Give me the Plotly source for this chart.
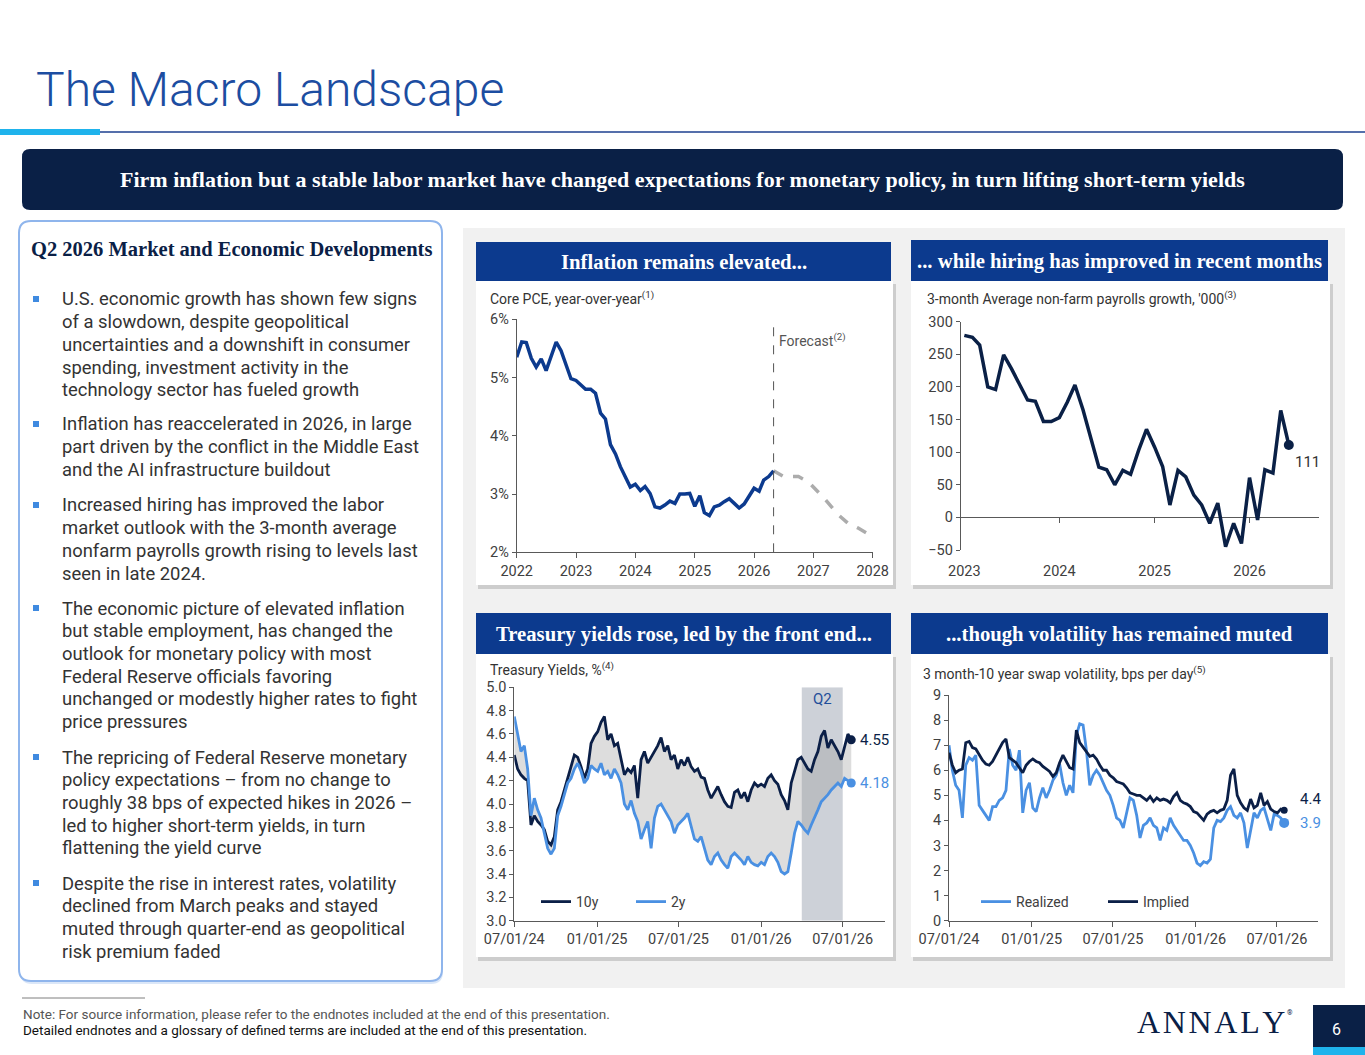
import plotly.graph_objects as go
import pandas as pd

W, H = 1365, 1055

# ---------------- data ----------------
pce = [5.35, 5.61, 5.60, 5.33, 5.18, 5.32, 5.12, 5.35, 5.61, 5.46, 5.23, 4.98,
       4.95, 4.87, 4.80, 4.80, 4.73, 4.39, 4.29, 3.85, 3.69, 3.47, 3.28, 3.12,
       3.17, 3.06, 3.13, 3.01, 2.78, 2.76, 2.81, 2.88, 2.84, 3.00, 3.00, 3.01,
       2.79, 2.97, 2.68, 2.63, 2.78, 2.81, 2.87, 2.92, 2.84, 2.76, 2.83, 2.97,
       3.10, 3.05, 3.24, 3.30, 3.40]
pce_fc_dates = ["2026-05-01", "2026-07-01", "2026-10-01", "2026-12-01", "2027-03-01",
                "2027-06-01", "2027-08-01", "2027-10-01", "2027-12-01"]
pce_fc = [3.40, 3.30, 3.30, 3.21, 2.95, 2.65, 2.50, 2.42, 2.32]

payrolls = [279, 276, 264, 200, 196, 249, 228, 205, 180, 178, 147, 147,
            153, 177, 203, 165, 124, 77, 73, 50, 72, 66, 103, 135,
            108, 78, 19, 72, 62, 34, 19, -9, 22, -45, -9, -40,
            61, -4, 73, 68, 164, 111]

ten_y = [4.42, 4.30, 4.25, 4.22, 4.20, 3.82, 3.90, 3.85, 3.82, 3.78, 3.68, 3.65,
         3.72, 3.95, 4.02, 4.12, 4.22, 4.30, 4.42, 4.40, 4.32, 4.22, 4.30, 4.52,
         4.58, 4.62, 4.70, 4.75, 4.55, 4.60, 4.50, 4.52, 4.38, 4.25, 4.30, 4.27,
         4.33, 4.05, 4.38, 4.45, 4.35, 4.40, 4.45, 4.50, 4.57, 4.45, 4.50, 4.38,
         4.42, 4.30, 4.38, 4.33, 4.40, 4.32, 4.28, 4.30, 4.23, 4.22, 4.12, 4.05,
         4.10, 4.15, 4.08, 4.02, 3.98, 3.97, 4.10, 4.12, 4.05, 4.10, 4.02, 4.12,
         4.18, 4.15, 4.17, 4.15, 4.22, 4.25, 4.20, 4.17, 4.08, 4.03, 3.95, 4.18,
         4.28, 4.38, 4.40, 4.35, 4.30, 4.28, 4.38, 4.45, 4.58, 4.63, 4.48, 4.55,
         4.50, 4.45, 4.38, 4.50, 4.60, 4.55]
two_y = [4.75, 4.60, 4.45, 4.50, 4.30, 3.90, 4.05, 3.95, 3.88, 3.75, 3.62, 3.57,
         3.62, 3.90, 3.98, 4.08, 4.18, 4.22, 4.30, 4.35, 4.28, 4.18, 4.22, 4.33,
         4.30, 4.28, 4.35, 4.25, 4.28, 4.22, 4.30, 4.25, 4.18, 4.00, 3.95, 4.03,
         3.92, 3.85, 3.70, 3.78, 3.85, 3.62, 3.88, 3.98, 4.00, 3.95, 3.90, 3.85,
         3.75, 3.82, 3.85, 3.88, 3.92, 3.80, 3.70, 3.68, 3.72, 3.62, 3.52, 3.48,
         3.55, 3.58, 3.52, 3.48, 3.45, 3.55, 3.58, 3.55, 3.52, 3.48, 3.55, 3.50,
         3.48, 3.47, 3.50, 3.48, 3.55, 3.58, 3.55, 3.50, 3.42, 3.40, 3.42, 3.58,
         3.75, 3.85, 3.82, 3.78, 3.75, 3.82, 3.88, 3.95, 4.02, 4.05, 4.08, 4.12,
         4.15, 4.18, 4.15, 4.22, 4.20, 4.18]

implied = [6.7, 6.2, 5.9, 6.0, 6.05, 7.1, 7.15, 6.9, 6.85, 6.6, 6.4, 6.25,
           6.2, 6.35, 6.6, 6.8, 7.1, 7.25, 6.5, 6.4, 6.3, 6.1, 5.9, 6.2,
           6.35, 6.45, 6.35, 6.3, 6.15, 6.05, 5.95, 5.75, 5.9, 6.3, 6.6, 6.35,
           6.1, 6.05, 7.6, 7.1, 6.9, 6.7, 6.55, 6.6, 6.45, 6.2, 6.0, 6.0,
           5.8, 5.7, 5.55, 5.5, 5.45, 5.3, 5.1, 5.05, 5.0, 5.0, 4.9, 4.8,
           4.95, 4.75, 4.9, 4.8, 4.85, 4.8, 4.7, 4.95, 5.1, 4.8, 4.7, 4.65,
           4.55, 4.35, 4.3, 4.15, 4.0, 4.25, 4.35, 4.4, 4.3, 4.4, 4.45, 4.8,
           5.8, 6.05, 5.0, 4.7, 4.5, 4.4, 4.85, 4.5, 4.6, 5.1, 4.6, 4.75,
           4.45, 4.35, 4.3, 4.45, 4.4]
realized = [7.0, 6.0, 5.4, 5.2, 4.1, 6.2, 6.5, 6.4, 6.6, 4.6, 4.4, 4.2,
            4.0, 4.55, 4.55, 4.8, 4.9, 5.2, 6.85, 6.2, 6.0, 6.8, 4.3, 5.2,
            5.5, 4.5, 4.35, 4.9, 5.3, 4.9, 5.2, 5.6, 5.8, 6.25, 5.5, 5.0,
            5.4, 5.1, 7.4, 7.85, 7.8, 6.8, 5.4, 5.8, 6.0, 5.8, 5.5, 5.2,
            5.0, 4.6, 4.1, 4.0, 3.7, 4.3, 4.9, 4.8, 4.2, 3.3, 3.8, 3.9,
            4.1, 3.8, 3.7, 3.2, 3.7, 3.6, 4.1, 3.8, 3.6, 3.4, 3.2, 3.2,
            3.0, 2.7, 2.3, 2.2, 2.35, 2.3, 2.45, 3.7, 4.0, 3.95, 4.1, 4.4,
            4.55, 4.2, 4.1, 4.3, 3.9, 2.9, 3.6, 4.3, 4.1, 4.4, 4.5, 4.0,
            3.6, 4.25, 4.2, 4.1, 3.9]

pce_dates = pd.date_range("2022-01-01", periods=len(pce), freq="MS")
pay_dates = pd.date_range("2023-01-01", periods=len(payrolls), freq="MS")
ust_dates = pd.date_range("2024-07-01", "2026-07-20", periods=len(ten_y))
vol_dates = pd.date_range("2024-07-01", "2026-07-17", periods=len(implied))
half_year_ticks = ["2024-07-01", "2025-01-01", "2025-07-01", "2026-01-01", "2026-07-01"]
pay_zero_ticks = ["2024-01-01", "2025-01-01", "2026-01-01"]
pay_range = [-50, 300]

bullets = [
    ["U.S. economic growth has shown few signs", "of a slowdown, despite geopolitical",
     "uncertainties and a downshift in consumer", "spending, investment activity in the",
     "technology sector has fueled growth"],
    ["Inflation has reaccelerated in 2026, in large", "part driven by the conflict in the Middle East",
     "and the AI infrastructure buildout"],
    ["Increased hiring has improved the labor", "market outlook with the 3-month average",
     "nonfarm payrolls growth rising to levels last", "seen in late 2024."],
    ["The economic picture of elevated inflation", "but stable employment, has changed the",
     "outlook for monetary policy with most", "Federal Reserve officials favoring",
     "unchanged or modestly higher rates to fight", "price pressures"],
    ["The repricing of Federal Reserve monetary", "policy expectations \u2013 from no change to",
     "roughly 38 bps of expected hikes in 2026 \u2013", "led to higher short-term yields, in turn",
     "flattening the yield curve"],
    ["Despite the rise in interest rates, volatility", "declined from March peaks and stayed",
     "muted through quarter-end as geopolitical", "risk premium faded"],
]
bullet_rows = [299, 424, 505, 608, 757, 883]

NAVY = "#0a2046"
ROYAL = "#0c3a8e"
LIGHT = "#4a90e2"
DARK = "#0b1f47"
AXIS = "#595959"
TICKFONT = dict(family="Roboto", size=14.5, color="#404040")
SERIF = "Liberation Serif"


def fx(p):
    return p / W


def fy(p):
    return 1 - p / H


shapes = []
annotations = []


def box(x0, y0, x1, y1, fill, line_color=None, line_width=0):
    shapes.append(dict(type="rect", xref="paper", yref="paper", layer="below",
                       x0=fx(x0), x1=fx(x1), y0=fy(y1), y1=fy(y0), fillcolor=fill,
                       line=dict(color=line_color or fill, width=line_width)))


def rounded(x0, y0, x1, y1, r, fill, line_color=None, line_width=0):
    path = (f"M {fx(x0 + r)},{fy(y0)} L {fx(x1 - r)},{fy(y0)} Q {fx(x1)},{fy(y0)} {fx(x1)},{fy(y0 + r)} "
            f"L {fx(x1)},{fy(y1 - r)} Q {fx(x1)},{fy(y1)} {fx(x1 - r)},{fy(y1)} "
            f"L {fx(x0 + r)},{fy(y1)} Q {fx(x0)},{fy(y1)} {fx(x0)},{fy(y1 - r)} "
            f"L {fx(x0)},{fy(y0 + r)} Q {fx(x0)},{fy(y0)} {fx(x0 + r)},{fy(y0)} Z")
    shapes.append(dict(type="path", xref="paper", yref="paper", layer="below", path=path,
                       fillcolor=fill, line=dict(color=line_color or fill, width=line_width)))


def text(x, y, s, size, color, family="Roboto", xanchor="left", yanchor="middle", **kw):
    annotations.append(dict(xref="paper", yref="paper", x=fx(x), y=fy(y), text=s, showarrow=False,
                            xanchor=xanchor, yanchor=yanchor, align="left",
                            font=dict(family=family, size=size, color=color, **kw)))


# ---------------- slide furniture ----------------
text(34, 90, "The Macro Landscape", 48, "#1c4da1", weight=300)
shapes.append(dict(type="line", xref="paper", yref="paper", x0=fx(100), x1=1, y0=fy(132), y1=fy(132),
                   line=dict(color="#1c3f8f", width=1.5)))
box(0, 129, 100, 135, "#1fb3ec")

rounded(22, 149, 1343, 210, 8, NAVY)
text(682, 180, "<b>Firm inflation but a stable labor market have changed expectations for monetary policy, in turn lifting short-term yields</b>",
     22, "white", family=SERIF, xanchor="center")

# left panel
rounded(20, 224, 443, 984, 12, "#dbe7f8")
rounded(19, 221, 442, 981, 12, "white", "#8fb5ec", 2)
text(29, 249, "<b>Q2 2026 Market and Economic Developments</b>", 20.5, NAVY, family=SERIF)
for row, lines in zip(bullet_rows, bullets):
    box(33, row - 3, 39, row + 3, "#3f8ae0")
    for i, line in enumerate(lines):
        text(60, row + i * 22.7, line, 18.4, "#333333")

# chart panel
box(463, 228, 1345, 988, "#f1f1f1")
cards = [
    (476, 242, 891, 281, 585, "Inflation remains elevated..."),
    (911, 240, 1328, 281, 585, "... while hiring has improved in recent months"),
    (476, 613, 891, 654, 957, "Treasury yields rose, led by the front end..."),
    (911, 613, 1328, 654, 957, "...though volatility has remained muted"),
]
for x0, h0, x1, h1, c1, title in cards:
    box(x0 + 2, h1 + 3, x1 + 5, c1 + 4, "#cdcdcd")
    box(x0, h1, x1 + 2, c1, "white")
    box(x0, h0, x1, h1, ROYAL)
    text((x0 + x1) / 2, (h0 + h1) / 2 + 1, "<b>" + title + "</b>", 20.7, "white", family=SERIF, xanchor="center")

text(488, 298, "Core PCE, year-over-year<sup>(1)</sup>", 14, "#333333")
text(925, 298, "3-month Average non-farm payrolls growth, '000<sup>(3)</sup>", 14, "#333333")
text(488, 669, "Treasury Yields, %<sup>(4)</sup>", 14, "#333333")
text(921, 673, "3 month-10 year swap volatility, bps per day<sup>(5)</sup>", 14, "#333333")

# footer
shapes.append(dict(type="line", xref="paper", yref="paper", x0=fx(22), x1=fx(145), y0=fy(998), y1=fy(998),
                   line=dict(color="#7f7f7f", width=1)))
text(21, 1014, "Note: For source information, please refer to the endnotes included at the end of this presentation.",
     13.5, "#555555")
text(21, 1030, "Detailed endnotes and a glossary of defined terms are included at the end of this presentation.",
     13.5, "#111111")
text(1211, 1022, "\u200a".join("ANNALY"), 32, NAVY, family=SERIF, xanchor="center")
text(1285, 1013, "\u00ae", 7, NAVY)
box(1313, 1005, 1365, 1047, NAVY)
box(1313, 1047, 1365, 1055, "#1fb3ec")
text(1336, 1029, "6", 16, "white", xanchor="center")

# ---------------- charts ----------------
fig = go.Figure()

# chart 1: core PCE
fig.add_trace(go.Scatter(x=pce_fc_dates, y=pce_fc, mode="lines", xaxis="x", yaxis="y", showlegend=False,
                         line=dict(color="#acacac", width=3.5, dash="dash")))
fig.add_trace(go.Scatter(x=pce_dates, y=pce, mode="lines", xaxis="x", yaxis="y", showlegend=False,
                         line=dict(color=ROYAL, width=3.5)))
shapes.append(dict(type="line", xref="x", yref="y", x0=pce_fc_dates[0], x1=pce_fc_dates[0], y0=2, y1=6,
                   line=dict(color="#555555", width=1, dash="dash")))
annotations.append(dict(xref="x", yref="y", x=pce_fc_dates[0], y=5.65, xanchor="left", xshift=3,
                        text="Forecast<sup>(2)</sup>", showarrow=False,
                        font=dict(family="Roboto", size=14, color="#555555")))

# chart 2: payrolls
fig.add_trace(go.Scatter(x=[], y=[], xaxis="x5", yaxis="y2", showlegend=False))
fig.add_trace(go.Scatter(x=pay_dates, y=payrolls, mode="lines", xaxis="x2", yaxis="y2", showlegend=False,
                         line=dict(color=NAVY, width=3.5)))
fig.add_trace(go.Scatter(x=[pay_dates[-1]], y=[payrolls[-1]], mode="markers", xaxis="x2", yaxis="y2",
                         showlegend=False, marker=dict(color=NAVY, size=10)))
annotations.append(dict(xref="x2", yref="y2", x=pay_dates[-1], y=payrolls[-1], xanchor="left", xshift=4,
                        yshift=-17, text=str(payrolls[-1]), showarrow=False,
                        font=dict(family="Roboto", size=15, color="#333333")))

# chart 3: treasury yields
shapes.append(dict(type="rect", xref="x3", yref="y3", layer="below", x0="2026-04-01", x1="2026-07-01",
                   y0=3.0, y1=5.0, fillcolor="#cdd1d8", line=dict(width=0)))
fig.add_trace(go.Scatter(x=ust_dates, y=two_y, mode="lines", xaxis="x3", yaxis="y3", showlegend=False,
                         line=dict(width=0), hoverinfo="skip"))
fig.add_trace(go.Scatter(x=ust_dates, y=ten_y, mode="lines", xaxis="x3", yaxis="y3", showlegend=False,
                         line=dict(width=0), fill="tonexty", fillcolor="rgba(150,150,150,0.32)", hoverinfo="skip"))
fig.add_trace(go.Scatter(x=ust_dates, y=ten_y, mode="lines", name="10y", xaxis="x3", yaxis="y3",
                         legend="legend", line=dict(color=DARK, width=2.8)))
fig.add_trace(go.Scatter(x=ust_dates, y=two_y, mode="lines", name="2y", xaxis="x3", yaxis="y3",
                         legend="legend", line=dict(color=LIGHT, width=2.8)))
for series, col in [(ten_y, DARK), (two_y, LIGHT)]:
    fig.add_trace(go.Scatter(x=[ust_dates[-1]], y=[series[-1]], mode="markers", xaxis="x3", yaxis="y3",
                             showlegend=False, marker=dict(color=col, size=9), cliponaxis=False))
    annotations.append(dict(xref="x3", yref="y3", x=ust_dates[-1], y=series[-1], xanchor="left", xshift=7,
                            text=f"{series[-1]:.2f}", showarrow=False,
                            font=dict(family="Roboto", size=15, color=col)))
annotations.append(dict(xref="x3", yref="y3", x="2026-05-16", y=4.9, text="Q2", showarrow=False,
                        font=dict(family="Roboto", size=15, color="#1f4e9a")))

# chart 4: swap volatility
fig.add_trace(go.Scatter(x=vol_dates, y=realized, mode="lines", name="Realized", xaxis="x4", yaxis="y4",
                         legend="legend2", line=dict(color=LIGHT, width=2.8)))
fig.add_trace(go.Scatter(x=vol_dates, y=implied, mode="lines", name="Implied", xaxis="x4", yaxis="y4",
                         legend="legend2", line=dict(color=DARK, width=2.8)))
fig.add_trace(go.Scatter(x=[vol_dates[-1]], y=[realized[-1]], mode="markers", xaxis="x4", yaxis="y4",
                         showlegend=False, marker=dict(color=LIGHT, size=10)))
fig.add_trace(go.Scatter(x=[vol_dates[-1]], y=[implied[-1]], mode="markers", xaxis="x4", yaxis="y4",
                         showlegend=False, marker=dict(color=DARK, size=7)))
for val, col, shift in [(implied[-1], DARK, 11), (realized[-1], LIGHT, 0)]:
    annotations.append(dict(xref="x4", yref="y4", x=vol_dates[-1], y=val, xanchor="left", xshift=14,
                            yshift=shift, text=f"{val:.1f}", showarrow=False,
                            font=dict(family="Roboto", size=15, color=col)))

# ---------------- axes ----------------
axis_common = dict(showgrid=False, zeroline=False, showline=True, linecolor=AXIS, linewidth=1,
                   ticks="outside", ticklen=5, tickcolor=AXIS, tickfont=TICKFONT, automargin=False)
legend_common = dict(xanchor="left", yanchor="middle", orientation="h", traceorder="normal",
                     bgcolor="rgba(0,0,0,0)", font=dict(family="Roboto", size=14, color="#404040"))

pay_domain = [fy(550), fy(321.7)]
zero_pos = pay_domain[0] + (0 - pay_range[0]) / (pay_range[1] - pay_range[0]) * (pay_domain[1] - pay_domain[0])

fig.update_layout(
    width=W, height=H, autosize=False,
    margin=dict(l=0, r=0, t=0, b=0, pad=0, autoexpand=False),
    paper_bgcolor="white", plot_bgcolor="rgba(0,0,0,0)",
    shapes=shapes, annotations=annotations,
    xaxis=dict(axis_common, domain=[fx(516.7), fx(872.7)], anchor="y", type="date",
               range=["2022-01-01", "2028-01-01"], dtick="M12", tickformat="%Y"),
    yaxis=dict(axis_common, domain=[fy(552.3), fy(319.3)], anchor="x", range=[2, 6], dtick=1,
               ticksuffix="%", ticklen=4),
    xaxis2=dict(axis_common, domain=[fx(960.7), fx(1319)], anchor="y2", type="date", showline=False,
                ticks="", ticklabelstandoff=10, range=["2022-12-18", "2026-09-25"], dtick="M12",
                tickformat="%Y"),
    xaxis5=dict(axis_common, overlaying="x2", matches="x2", anchor="free", position=zero_pos,
                type="date", showline=False, showticklabels=False, tickvals=pay_zero_ticks),
    yaxis2=dict(axis_common, domain=pay_domain, anchor="x2", range=pay_range, dtick=50,
                ticklen=4, zeroline=True, zerolinecolor=AXIS, zerolinewidth=1),
    xaxis3=dict(axis_common, domain=[fx(514.3), fx(885)], anchor="y3", type="date",
                range=["2024-07-01", "2026-10-03"], tickvals=half_year_ticks, tickformat="%m/%d/%y"),
    yaxis3=dict(axis_common, domain=[fy(920.7), fy(687.3)], anchor="x3", range=[3, 5], dtick=0.2,
                tickformat=".1f", ticklen=4),
    xaxis4=dict(axis_common, domain=[fx(949), fx(1318.3)], anchor="y4", type="date",
                range=["2024-07-01", "2026-10-01"], tickvals=half_year_ticks, tickformat="%m/%d/%y"),
    yaxis4=dict(axis_common, domain=[fy(920.7), fy(695)], anchor="x4", range=[0, 9], dtick=1, ticklen=4),
    legend=dict(legend_common, x=fx(536), y=fy(902), entrywidth=50),
    legend2=dict(legend_common, x=fx(976), y=fy(902), entrywidth=82),
)

fig.write_html("out.html", config={"displayModeBar": False},
               post_script="document.body.style.margin='0px';")
